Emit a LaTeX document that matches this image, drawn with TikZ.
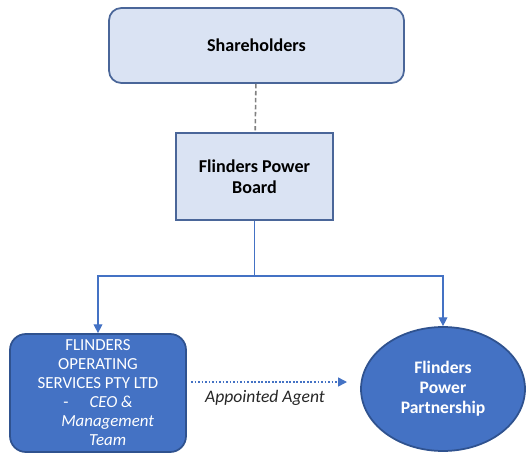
\documentclass[tikz,border=0pt]{standalone}
\usepackage{fontspec}
\setmainfont{Carlito}
\usepackage{tikz}
\usetikzlibrary{arrows.meta,positioning,shapes}
\definecolor{boxfill}{HTML}{DAE3F3}
\definecolor{boxline}{HTML}{4A6699}
\definecolor{darkfill}{HTML}{4472C4}
\definecolor{darkline}{HTML}{2F528F}
\definecolor{linkblue}{HTML}{4472C4}
\tikzset{
  lightbox/.style={draw=boxline,fill=boxfill,line width=1pt,align=center,font=\fontsize{10.3}{12}\selectfont\bfseries},
  darkbox/.style={draw=darkline,fill=darkfill,line width=1pt,align=center,text=white,font=\fontsize{9.6}{10.8}\selectfont},
  link/.style={draw=linkblue,line width=0.7pt},
  tip/.style={-{Triangle[width=5pt,length=5pt]}}
}
\begin{document}
\begin{tikzpicture}[x=0.02cm,y=-0.02cm]
\useasboundingbox (0,0) rectangle (526,452);
\node[lightbox,rounded corners=7pt,minimum width=5.9cm,minimum height=1.5cm] (share) at (256.5,45.5) {Shareholders};
%%%%%%%%%%%%%%%%
\node[lightbox,minimum width=3.14cm,minimum height=1.74cm] (board) at (254.5,176.5) {Flinders Power\\Board};
\draw [gray,line width=0.9pt,dash pattern=on 2.5pt off 1.5pt] (share) -- (board);
%%%%%%%%%%%%%%%%
\node[darkbox,rounded corners=9pt,minimum width=3.52cm,minimum height=2.36cm] (fos) at (98,393) {FLINDERS\\OPERATING\\SERVICES PTY LTD\\-\hspace{12pt}\itshape CEO \&\\\hspace*{11pt}\itshape Management\\\hspace*{11pt}\itshape Team};
\node[darkbox,ellipse,minimum width=3.28cm,minimum height=2.48cm,font=\fontsize{10}{11.4}\selectfont\bfseries] (fpp) at (443,389) {Flinders\\Power\\Partnership};
%%%%%%%%%%%%%%%%
\coordinate (split) at (254.5,276);
\draw [link] (board) -- (split);
\draw [link,tip] (split) -| (fos);
\draw [link,tip] (split) -| (fpp);
%%%%%%%%%%%%%%%%
\coordinate (agentstart) at (191,382);
\coordinate (agentend) at (347,382);
\draw [linkblue,line width=0.8pt,dash pattern=on 1pt off 1pt,tip] (agentstart) -- (agentend);
\node[text=black!85,font=\fontsize{10}{11}\selectfont\itshape] (agent) at (265,398) {Appointed Agent};
\end{tikzpicture}
\end{document}
